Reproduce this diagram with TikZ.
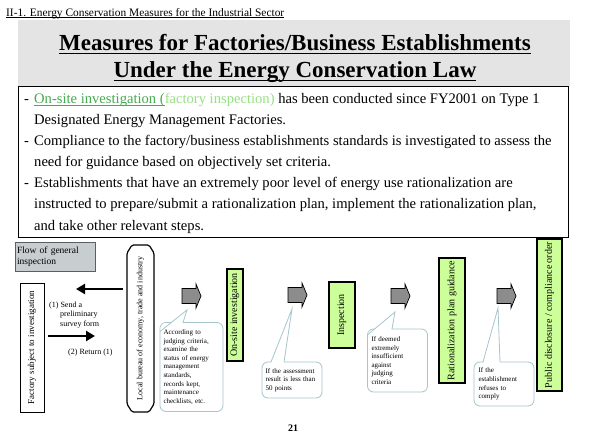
\documentclass[tikz,border=0pt]{standalone}
\usepackage{fontspec}
\setmainfont{Liberation Serif}
\usetikzlibrary{arrows.meta}

\newsavebox\mkulbox
% #1 depth of the rule top below baseline, #2 rule thickness, #3 text
\newcommand\mkuline[3]{\sbox\mkulbox{#3}\rlap{\vrule height -#1 depth \dimexpr#1+#2\relax width \wd\mkulbox}\usebox\mkulbox}

\definecolor{greenbox}{RGB}{204,255,153}
\definecolor{bandgrey}{RGB}{228,228,228}
\definecolor{flowgrey}{RGB}{200,205,208}
\definecolor{flowedge}{RGB}{90,95,100}
\definecolor{calloutline}{RGB}{165,198,204}
\definecolor{darkgreen}{RGB}{70,170,80}
\definecolor{lightgreen}{RGB}{150,225,130}
\definecolor{arrowgrey}{RGB}{140,140,140}

\tikzset{
  bodytext/.style={anchor=base west, inner sep=0pt, font=\fontsize{14.6}{16}\selectfont},
  titletext/.style={anchor=base, inner sep=0pt, font=\fontsize{23}{26}\selectfont\bfseries},
  greenstep/.style={draw=black, line width=1.6pt, fill=greenbox, rotate=90, inner sep=0pt,
     font=\fontsize{10}{12}\selectfont},
  calloutbox/.style={draw=calloutline, line width=0.8pt, fill=white, rounded corners=6pt,
     align=left, inner sep=0pt, font=\fontsize{7}{8.6}\selectfont},
  blkarr/.style={draw=black, line width=0.7pt, fill=arrowgrey},
  flowarrow/.style={line width=2.4pt, -{Triangle[length=9pt,width=10pt]}},
  smalllabel/.style={anchor=base west, inner sep=0pt, font=\fontsize{8}{9}\selectfont},
  pointer/.style={calloutline, line width=0.8pt},
  pics/blockarr/.style={code={
     \draw[blkarr] (0,-7.5) -- (14,-7.5) -- (14,-12) -- (19,0) -- (14,12) -- (14,7.5) -- (0,7.5) -- cycle;}}
}

\begin{document}
\begin{tikzpicture}[x=1pt,y=-1pt]
\useasboundingbox (0,0) rectangle (589,442);
\fill[white] (0,0) rectangle (589,442);

% header
\node[anchor=base west, inner sep=0pt, font=\fontsize{11.4}{13}\selectfont] (header) at (6,16)
  {\mkuline{1.2pt}{0.6pt}{II-1. Energy Conservation Measures for the Industrial Sector}};

% grey band and title
\fill[bandgrey] (18,20) rectangle (570,86);
\node[titletext] (title1) at (295,50)
  {\mkuline{3pt}{1.3pt}{Measures for Factories/Business Establishments}};
\node[titletext] (title2) at (295,77)
  {\mkuline{3pt}{1.3pt}{Under the Energy Conservation Law}};

% text box
\node[draw=black, line width=0.9pt, fill=white, minimum width=550pt, minimum height=151pt, inner sep=0pt]
  (textbox) at (293,161.5) {};
\node[bodytext] (l1) at (24,103) {\makebox[10pt][l]{-}\textcolor{darkgreen}{\mkuline{2pt}{0.6pt}{On-site investigation (}}\textcolor{lightgreen}{factory inspection)} has been conducted since FY2001 on Type 1};
\node[bodytext] (l2) at (34,124.2) {Designated Energy Management Factories.};
\node[bodytext] (l3) at (24,145.3) {\makebox[10pt][l]{-}Compliance to the factory/business establishments standards is investigated to assess the};
\node[bodytext] (l4) at (34,166.5) {need for guidance based on objectively set criteria.};
\node[bodytext] (l5) at (24,187.7) {\makebox[10pt][l]{-}Establishments that have an extremely poor level of energy use rationalization are};
\node[bodytext] (l6) at (34,208.8) {instructed to prepare/submit a rationalization plan, implement the rationalization plan,};
\node[bodytext] (l7) at (34,230) {and take other relevant steps.};

% flow label
\node[draw=flowedge, line width=0.9pt, fill=flowgrey, minimum width=80pt, minimum height=29pt,
  text width=76pt, align=left, inner sep=2pt, font=\fontsize{9.5}{11}\selectfont] (flow) at (55,256.5)
  {Flow of general\\inspection};

% factory
\node[draw=black, line width=0.8pt, fill=white, rotate=90, minimum width=129pt, minimum height=24pt,
  inner sep=0pt, font=\fontsize{9}{10}\selectfont] (factory) at (32,347.5) {Factory subject to investigation};

% local bureau
\draw[line width=1.2pt, rounded corners=1.5pt] (127,253) -- (132,245) -- (149,245) -- (154,253) -- (154,404) -- (149,412) -- (132,412) -- (127,404) -- cycle;
\node[rotate=90, minimum width=160pt, minimum height=25pt, inner sep=0pt, font=\fontsize{8}{9}\selectfont]
  (bureau) at (140.5,328.5) {Local bureau of economy, trade and industry};

% flow arrows
\coordinate (s1) at (123,289);
\coordinate (e1) at (76,289);
\coordinate (s2) at (48,336);
\coordinate (e2) at (95,336);
\draw[flowarrow] (s1) -- (e1);
\draw[flowarrow] (s2) -- (e2);
\node[smalllabel] (lab1) at (49,307) {(1) Send a};
\node[smalllabel] (lab2) at (60,316.5) {preliminary};
\node[smalllabel] (lab3) at (60,326) {survey form};
\node[smalllabel] (lab4) at (68,354) {(2) Return (1)};

% block arrows
\pic at (182,296) {blockarr};
\pic at (288,295) {blockarr};
\pic at (391,296) {blockarr};
\pic at (497,296) {blockarr};

% green steps
\node[greenstep, minimum width=92pt, minimum height=16pt] (onsite) at (235,315) {On-site investigation};
\node[greenstep, minimum width=66pt, minimum height=26pt] (insp) at (342,315) {Inspection};
\node[greenstep, minimum width=125pt, minimum height=26pt] (rat) at (452,320.5) {Rationalization plan guidance};
\node[greenstep, minimum width=152pt, minimum height=25pt] (pub) at (549.5,315) {Public disclosure / compliance order};

% callouts
\node[calloutbox, minimum width=63pt, minimum height=89pt, text width=56pt] (c1) at (191.5,367)
  {According to\\judging criteria,\\examine the\\status of energy\\management\\standards,\\records kept,\\maintenance\\checklists, etc.};
\node[calloutbox, minimum width=60pt, minimum height=36pt, text width=53pt] (c2) at (292,380)
  {If the assessment\\result is less than\\50 points};
\node[calloutbox, minimum width=60pt, minimum height=63pt, text width=52pt] (c3) at (397.5,360.5)
  {If deemed\\extremely\\insufficient\\against\\judging\\criteria};
\node[calloutbox, minimum width=60pt, minimum height=44pt, text width=51pt] (c4) at (504,384)
  {If the\\establishment\\refuses to\\comply};

% callout pointers
\coordinate (t1) at (187,310);
\coordinate (t2) at (292,309);
\coordinate (t3) at (395,312);
\coordinate (t4) at (498,308);
\fill[white] (160.6,331) -- (t1) -- (182.5,323.4) -- (164,323.4) -- (160.6,327) -- cycle;
\draw[pointer] (160,331.5) -- (t1) -- (183,322.5);
\fill[white] (271,363.5) -- (t2) -- (284,363.5) -- cycle;
\fill[white] (271.5,361) rectangle (283.5,364);
\draw[pointer] (271,362) -- (t2) -- (284,362);
\fill[white] (368.6,334) -- (t3) -- (391.5,329.8) -- (372,329.8) -- (368.6,332) -- cycle;
\draw[pointer] (368,334.5) -- (t3) -- (392,329);
\fill[white] (483.5,363.5) -- (t4) -- (499.5,363.5) -- cycle;
\fill[white] (483.5,361) rectangle (499.5,364);
\draw[pointer] (483,362) -- (t4) -- (500,362);

% page number
\node[inner sep=0pt, font=\fontsize{10}{12}\selectfont\bfseries] (pagenum) at (293,428) {21};
\end{tikzpicture}
\end{document}
